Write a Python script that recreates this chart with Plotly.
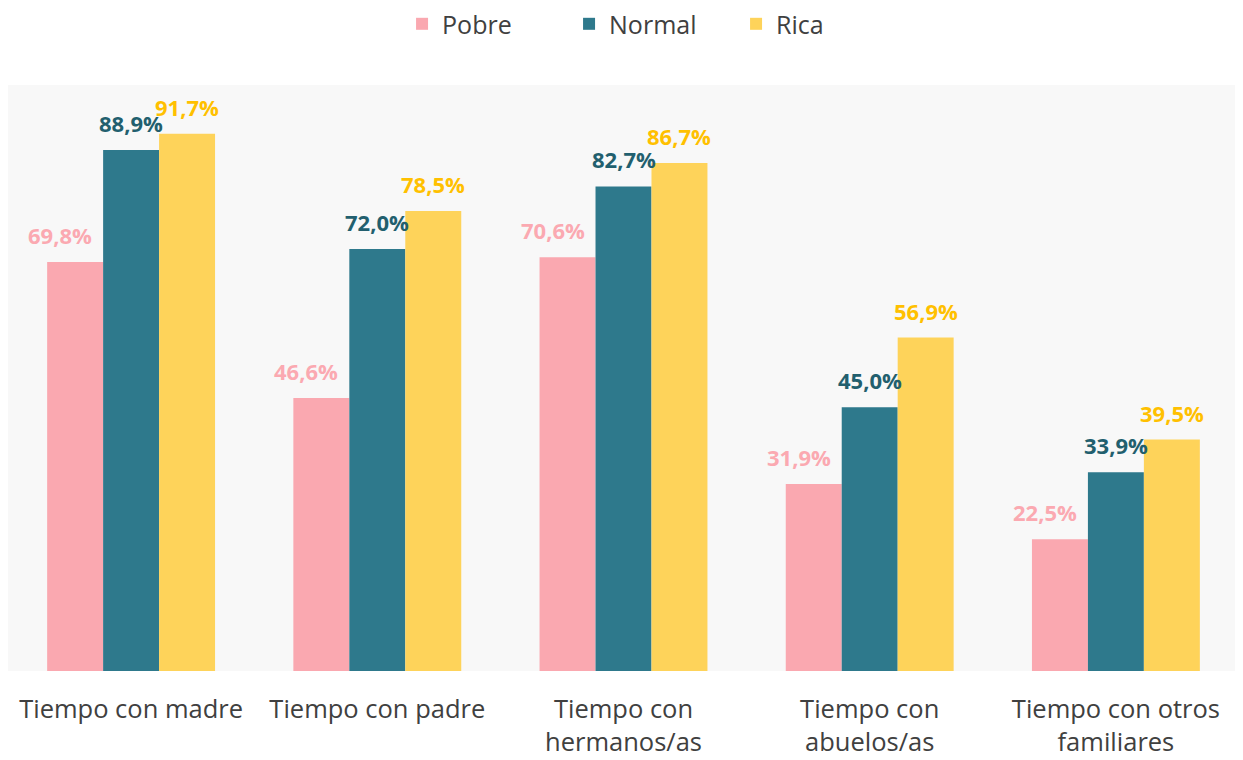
import plotly.graph_objects as go

categories = ["Tiempo con madre", "Tiempo con padre", "Tiempo con<br>hermanos/as",
              "Tiempo con<br>abuelos/as", "Tiempo con otros<br>familiares"]
series_names = ["Pobre", "Normal", "Rica"]
pobre = [69.8, 46.6, 70.6, 31.9, 22.5]
normal = [88.9, 72.0, 82.7, 45.0, 33.9]
rica = [91.7, 78.5, 86.7, 56.9, 39.5]

values = [pobre, normal, rica]
bar_colors = ["#FAA8B0", "#2E798C", "#FED35A"]
label_colors = ["#FBA9B1", "#225F6E", "#FFC000"]
label_xshift = [-15, 0, 0]

def fmt(v):
    return f"{v:.1f}".replace(".", ",") + "%"

fig = go.Figure()
bw = 0.227
for k, (name, vals) in enumerate(zip(series_names, values)):
    fig.add_trace(go.Bar(
        x=list(range(len(categories))), y=vals, name=name,
        marker=dict(color=bar_colors[k], line=dict(width=0)),
        hoverinfo="skip",
    ))
    for i, v in enumerate(vals):
        fig.add_annotation(
            x=i + (k - 1) * bw, y=v, xref="x", yref="y",
            text=f"<b>{fmt(v)}</b>", showarrow=False,
            yanchor="bottom", xanchor="center", xshift=label_xshift[k], yshift=10,
            font=dict(family="Open Sans", size=22, color=label_colors[k]),
        )

fig.update_layout(
    width=1235, height=752,
    barmode="group", bargap=0.318, bargroupgap=0,
    plot_bgcolor="#F8F8F8", paper_bgcolor="white",
    margin=dict(l=0, r=4, t=77, b=89, autoexpand=False),
    font=dict(family="Open Sans", color="#404040"),
    legend=dict(orientation="h", x=0.5236, xanchor="center", y=1.104, yref="paper",
                yanchor="middle", font=dict(size=25, color="#404040"),
                traceorder="normal", entrywidth=122),
    xaxis=dict(tickmode="array", tickvals=list(range(len(categories))), ticktext=categories,
               tickfont=dict(size=25.5, color="#404040"), showgrid=False, zeroline=False,
               showline=False, ticks="", ticklabelstandoff=20,
               range=[-0.5, len(categories) - 0.5]),
    yaxis=dict(range=[0, 100], visible=False, showgrid=False, zeroline=False),
)

fig.write_html("out.html")
